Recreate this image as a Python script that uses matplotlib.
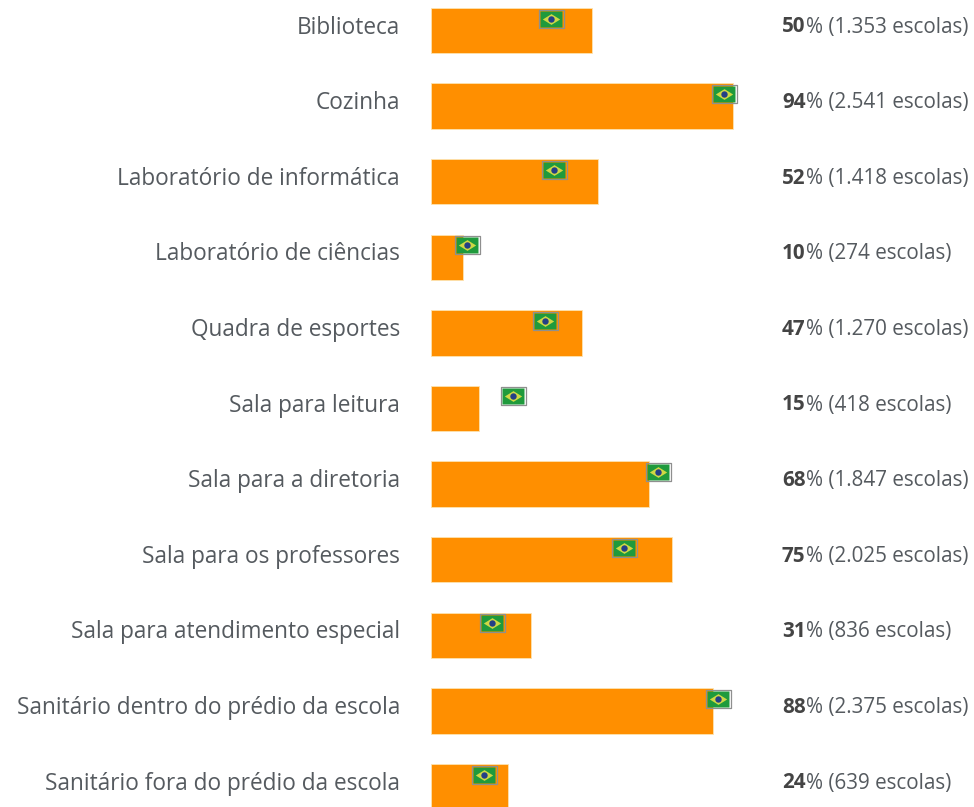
import matplotlib
matplotlib.use("Agg")
import matplotlib.pyplot as plt
from matplotlib.path import Path

plt.rcParams['font.family'] = ['Open Sans', 'DejaVu Sans']

categories = ["Biblioteca", "Cozinha", "Laboratório de informática", "Laboratório de ciências",
              "Quadra de esportes", "Sala para leitura", "Sala para a diretoria",
              "Sala para os professores", "Sala para atendimento especial",
              "Sanitário dentro do prédio da escola", "Sanitário fora do prédio da escola"]
percent = [50, 94, 52, 10, 47, 15, 68, 75, 31, 88, 24]
schools = ["1.353", "2.541", "1.418", "274", "1.270", "418", "1.847", "2.025", "836", "2.375", "639"]
national = [37.5, 91.3, 38.4, 11.2, 35.4, 25.5, 70.7, 60.1, 19.0, 89.5, 16.6]

W, H = 974, 807
fig = plt.figure(figsize=(W / 100, H / 100), dpi=100)
ax = fig.add_axes([0, 0, 1, 1])
PX_PER_PCT = 3.21
PX_PER_ROW = 75.6
X0, Y0 = 431, 30.5
ax.set_xlim(-X0 / PX_PER_PCT, (W - X0) / PX_PER_PCT)
ax.set_ylim((H - Y0) / PX_PER_ROW, -Y0 / PX_PER_ROW)
ax.axis("off")

y = list(range(len(categories)))
ax.barh(y, percent, height=45.5 / PX_PER_ROW, color="#ff8f00", edgecolor="#fde3b0", linewidth=0.6)

rect = Path([(-1, -0.72), (1, -0.72), (1, 0.72), (-1, 0.72), (-1, -0.72)], closed=True)
diamond = Path([(-1, 0), (0, -0.62), (1, 0), (0, 0.62), (-1, 0)], closed=True)
fy = [v - 12 / PX_PER_ROW for v in y]
ax.plot(national, fy, ls="none", marker=rect, ms=18, mfc="none", mec="#8f8f8f", mew=0.9, zorder=3)
ax.plot(national, fy, ls="none", marker=rect, ms=16, mfc="#1f9a3c", mec="none", zorder=4)
ax.plot(national, fy, ls="none", marker=diamond, ms=12.5, mfc="#cfd845", mec="none", zorder=5)
ax.plot(national, fy, ls="none", marker="o", ms=4.6, mfc="#243f86", mec="none", zorder=6)

FS = 16.3
COLOR = "#555a5f"
renderer = fig.canvas.get_renderer()
for i, cat in enumerate(categories):
    ax.text((400 - X0) / PX_PER_PCT, i - 6 / PX_PER_ROW, cat, ha="right", va="center_baseline",
            fontsize=FS, color=COLOR)
    bold = ax.text((782 - X0) / PX_PER_PCT, i - 6 / PX_PER_ROW, str(percent[i]), ha="left",
                   va="center_baseline", fontsize=14.9, fontweight="bold", color="#444444")
    x1 = bold.get_window_extent(renderer).x1
    xd = ax.transData.inverted().transform((x1, 0))[0]
    ax.text(xd, i - 6 / PX_PER_ROW, f"% ({schools[i]} escolas)", ha="left", va="center_baseline",
            fontsize=14.9, color=COLOR)

fig.savefig("out.png", dpi=100)
